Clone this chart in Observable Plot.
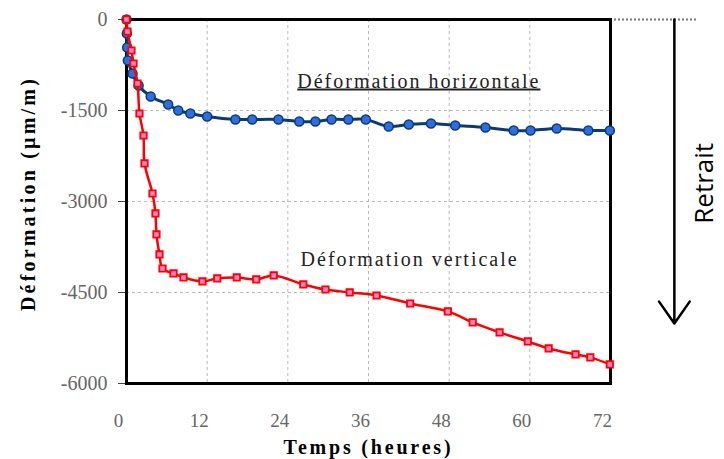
<!DOCTYPE html>
<html><head><meta charset="utf-8">
<script src="https://cdn.jsdelivr.net/npm/d3@7"></script>
<script src="https://cdn.jsdelivr.net/npm/@observablehq/plot@0.6"></script>
<style>body{margin:0;background:#fff}</style>
</head><body><div id="chart"></div>
<script>
// Déformation horizontale (blue)
const horizTime = [0, 0.05, 0.1, 0.2, 0.9, 1.8, 3.6, 6.2, 7.7, 9.5, 12.0, 16.2, 18.7, 22.6, 25.7, 28.1, 30.5, 33.0, 35.6, 39.0, 42.0, 45.3, 48.9, 53.4, 57.6, 60.1, 64.0, 68.7, 71.9];
const horizDef  = [0, -231, -461, -676, -890, -1088, -1269, -1401, -1500, -1549, -1599, -1648, -1648, -1648, -1681, -1681, -1648, -1648, -1648, -1763, -1730, -1714, -1747, -1780, -1829, -1829, -1796, -1829, -1829];
// Déformation verticale (red)
const vertTime = [0, 0.15, 0.74, 1.04, 1.64, 1.93, 2.53, 2.68, 3.87, 4.31, 4.46, 4.91, 5.36, 6.99, 8.48, 11.3, 13.5, 16.4, 19.3, 21.9, 26.3, 29.6, 33.2, 37.2, 42.2, 47.8, 51.5, 55.5, 59.7, 62.8, 66.8, 69.0, 71.9];
const vertDef  = [0, -198, -511, -725, -1055, -1549, -1912, -2373, -2868, -3197, -3543, -3873, -4104, -4186, -4252, -4318, -4268, -4252, -4285, -4219, -4367, -4450, -4499, -4549, -4681, -4812, -4993, -5158, -5307, -5422, -5521, -5570, -5686];
// Ticks
const xTicks = [0, 12, 24, 36, 48, 60, 72];
const yTicks = [0, -1500, -3000, -4500, -6000];
const xGrid = [12, 24, 36, 48, 60];
const yGrid = [-1500, -3000, -4500];
// Text
const xTitle = "Temps (heures)";
const yTitle = "Déformation (µm/m)";
const noteTexts = ["Déformation horizontale", "Déformation verticale"];
const retraitText = "Retrait";

const horiz = horizTime.map((t, i) => ({t, d: horizDef[i]}));
const vert = vertTime.map((t, i) => ({t, d: vertDef[i]}));
const notes = [
  {t: 25.4, d: -1121, text: noteTexts[0]},
  {t: 25.9, d: -4071, text: noteTexts[1]}
];

const plot = Plot.plot({
  width: 724, height: 459,
  marginLeft: 126, marginRight: 114, marginTop: 19, marginBottom: 76,
  style: {fontFamily: "Liberation Serif", background: "#fff", overflow: "visible"},
  x: {domain: [0, 72]},
  y: {domain: [-6000, 0]},
  marks: [
    Plot.gridX(xGrid, {stroke: "#b8b8b8", strokeOpacity: 1, strokeDasharray: "3,3"}),
    Plot.gridY(yGrid, {stroke: "#b8b8b8", strokeOpacity: 1, strokeDasharray: "3,3"}),
    Plot.axisX(xTicks, {tickSize: 0, tickPadding: 30, fontSize: 19, fill: "#666", dx: -8, label: null, tickFormat: d => String(d)}),
    Plot.axisY(yTicks, {tickSize: 8, tickPadding: 11, fontSize: 20, fill: "#666", stroke: "#444", label: null, tickFormat: d => String(d)}),
    Plot.ruleY([0], {x1: 72, x2: 85, stroke: "#777", strokeDasharray: "2,2", strokeWidth: 2}),
    Plot.frame({stroke: "black", strokeWidth: 3}),
    Plot.line(horiz, {x: "t", y: "d", curve: "catmull-rom", stroke: "#0c3b73", strokeWidth: 3}),
    Plot.dot(horiz, {x: "t", y: "d", r: 4.5, fill: "#2e6ee0", stroke: "#0c3b73", strokeWidth: 1.5}),
    Plot.line(vert, {x: "t", y: "d", curve: "catmull-rom", stroke: "#ff0000", strokeWidth: 2.5}),
    Plot.dot(vert, {x: "t", y: "d", symbol: "square", r: 3.6, fill: "#ff86c8", stroke: "#ff0000", strokeWidth: 1.8}),
    Plot.text(notes, {x: "t", y: "d", text: "text", textAnchor: "start", lineAnchor: "bottom", fontSize: 20, fill: "#222"}),
    Plot.arrow([{t: 81.5, d1: 0, d2: -5010}], {x1: "t", x2: "t", y1: "d1", y2: "d2", stroke: "black", strokeWidth: 2.5, headLength: 16, headAngle: 70}),
    Plot.text([retraitText], {x: 86.0, y: -2700, rotate: -90, fontSize: 26, fontFamily: "Open Sans", fill: "black"}),
    Plot.text([yTitle], {frameAnchor: "left", textAnchor: "middle", lineAnchor: "middle", rotate: -90, dx: -98, dy: -8, fontSize: 20, fontWeight: "bold"}),
    Plot.text([xTitle], {frameAnchor: "bottom", textAnchor: "middle", lineAnchor: "middle", dy: 64, fontSize: 20, fontWeight: "bold"})
  ]
});
const sel = d3.select(plot);
sel.selectAll("text").filter(function() { return this.textContent === noteTexts[0]; }).attr("text-decoration", "underline");
sel.selectAll("text").filter(function() { return this.textContent === noteTexts[0] || this.textContent === noteTexts[1]; }).style("letter-spacing", "2px");
sel.selectAll("text").filter(function() { return this.textContent === yTitle; }).style("letter-spacing", "3.2px");
sel.selectAll("text").filter(function() { return this.textContent === xTitle; }).style("letter-spacing", "2.8px");
document.getElementById("chart").appendChild(plot);
</script>
</body></html>
